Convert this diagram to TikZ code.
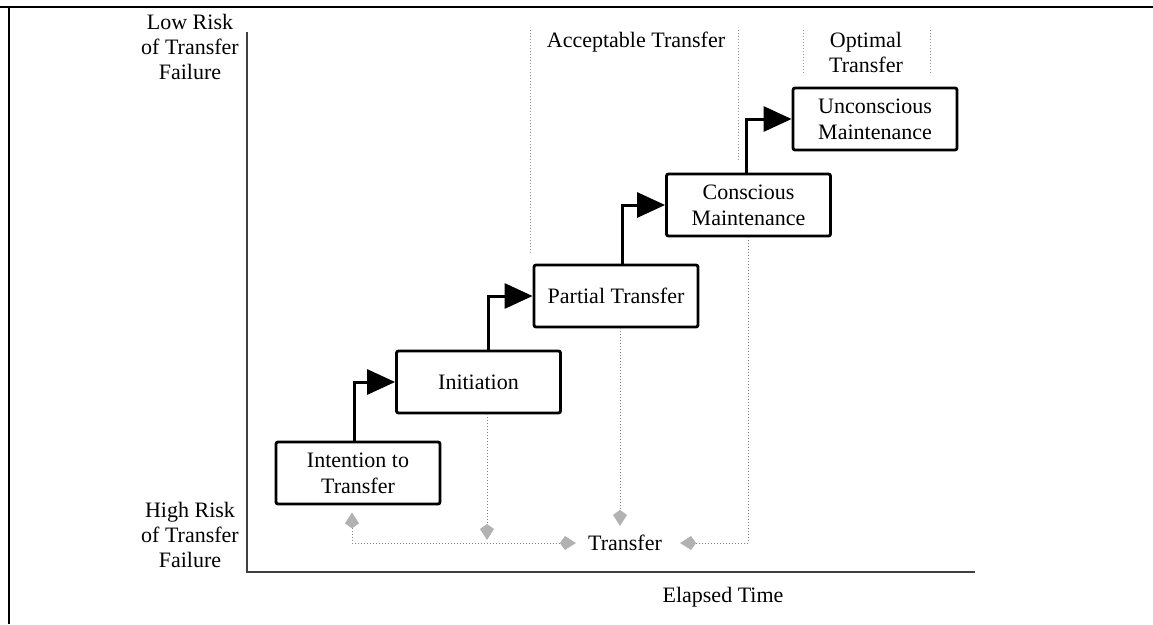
\documentclass[tikz,border=0pt]{standalone}
\usepackage{fontspec}
\setmainfont{Liberation Serif}
\usetikzlibrary{arrows.meta}

\begin{document}
\begin{tikzpicture}[x=1pt,y=-1pt]
\tikzset{
	stage/.style={draw=black, line width=2.8pt, rounded corners=2pt, minimum width=164pt, minimum height=62pt, align=center, font=\fontsize{22}{26}\selectfont},
	txt/.style={align=center, font=\fontsize{22}{25}\selectfont},
	flow/.style={line width=3pt, -{Triangle[length=28pt,width=25pt]}},
	fb/.style={gray, line width=1pt, dotted, >={Kite[length=16pt 0 0,width=14pt 0 0,inset=5pt 0,gray!60,fill=gray!60]}},
	bound/.style={gray!80, line width=1pt, dotted},
	axis/.style={gray!50!black, line width=1.6pt}
}
\useasboundingbox (0,0) rectangle (1153,624);

% Rahmen
\draw[line width=2.5pt] (0,7) -- (1153,7);
\draw[line width=2.5pt] (9,7) -- (9,624);

% Achsen
\draw[axis] (247,32) |- (975,572);
\node[txt] (lowrisk) at(190,47) {Low Risk\\of Transfer\\Failure};
\node[txt] (highrisk) at(190,535) {High Risk\\of Transfer\\Failure};
\node[txt] (elapsed) at(723,597) {Elapsed Time};

% Bereiche
\draw[bound] (530,30) -- (530,255);
\draw[bound] (738,30) -- (738,160);
\node[txt] (accept) at(636,42) {Acceptable Transfer};
\draw[bound] (803,30) -- (803,75);
\draw[bound] (930,30) -- (930,75);
\node[txt] (optimal) at(866,52) {Optimal\\Transfer};

% Stufen
\node[stage] (intent) at(358,473) {Intention to\\Transfer};
\node[stage] (init)   at(478.5,382) {Initiation};
\node[stage] (part)   at(616,296) {Partial Transfer};
\node[stage] (consc)  at(748.5,205) {Conscious\\Maintenance};
\node[stage] (uncon)  at(875,119) {Unconscious\\Maintenance};

% Stufen verbinden
\draw[flow] ([xshift=-4pt]intent.north) |- (init.west);
\draw[flow] ([xshift=10pt]init.north) |- (part.west);
\draw[flow] ([xshift=6pt]part.north) |- (consc.west);
\draw[flow] ([xshift=-2pt]consc.north) |- (uncon.west);

% Transfer
\node[txt, inner sep=0pt] (transfer) at(625,543) {Transfer};

\draw[fb, <->] ([xshift=-6pt,yshift=-7pt]intent.south) |- ([xshift=-12pt]transfer.west);
\draw[fb, ->] ([xshift=8.5pt]init.south) -- ([xshift=8.5pt,yshift=3pt]init.south |- transfer.center);
\draw[fb, ->] ([xshift=4pt]part.south) -- ([xshift=4pt,yshift=9pt]part.south |- transfer.north);
\draw[fb, ->] (consc.south) |- ([xshift=18pt]transfer.east);
\end{tikzpicture}
\end{document}
